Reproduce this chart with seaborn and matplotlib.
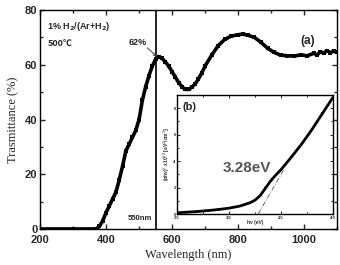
import numpy as np
import pandas as pd
import matplotlib
matplotlib.use("Agg")
import matplotlib.pyplot as plt
from matplotlib.ticker import MultipleLocator
import seaborn as sns

# transmittance spectrum
wavelength = [200, 300, 370, 380, 390, 400, 410, 420, 430, 440, 450, 460, 470, 480,
              490, 500, 510, 520, 530, 540, 550, 560, 570, 580, 590, 600, 610, 620,
              630, 640, 650, 660, 670, 680, 690, 700, 720, 740, 760, 780, 800, 815,
              830, 850, 870, 890, 910, 930, 950, 970, 990, 1010, 1030, 1040, 1050,
              1060, 1070, 1080, 1090, 1100]
transmittance = [0, 0, 0, 1, 3, 6, 8.5, 11, 13.5, 18, 23, 28.5, 31, 33.5,
                 36, 40, 47, 52, 56, 59.5, 62, 63, 62.3, 61, 59.5, 57.5, 55.5, 53.5,
                 52, 51, 51, 51.8, 53, 54.8, 57, 59.5, 63.5, 67, 69.3, 70.5, 71, 71.2,
                 70.8, 70, 68.2, 66, 64.5, 63.5, 63.3, 63.2, 63.6, 63.3, 64.2, 63.6, 64.8,
                 64.2, 65.2, 64.4, 65.0, 64.5]

# Tauc plot (inset)
photon_energy = [2.5, 2.6, 2.7, 2.8, 2.9, 3.0, 3.1, 3.2, 3.25, 3.3, 3.35, 3.4,
                 3.45, 3.5, 3.6, 3.7, 3.8, 3.9, 4.0]
tauc = [0.1, 0.15, 0.2, 0.27, 0.35, 0.45, 0.6, 0.85, 1.05, 1.4, 1.95, 2.5,
        2.95, 3.35, 4.3, 5.3, 6.4, 7.6, 8.8]
fit_energy = [3.28, 3.53]
fit_tauc = [0.0, 3.4]

peak_nm = 550
peak_T = 63
band_gap = 3.28

sns.set_style("ticks")
plt.rcParams['font.family'] = ['Liberation Sans', 'DejaVu Sans']
plt.rcParams['xtick.direction'] = 'in'
plt.rcParams['ytick.direction'] = 'in'

fig = plt.figure(figsize=(3.4, 2.65), dpi=100)
ax = fig.add_axes([0.118, 0.136, 0.873, 0.826])

df = pd.DataFrame({'wl': wavelength, 'T': transmittance})
sns.lineplot(data=df, x='wl', y='T', ax=ax, color='black', lw=2.6,
             marker='s', markersize=2.4, markeredgewidth=0)
ax.axvline(peak_nm, color='black', lw=1.2)

ax.set_xlim(200, 1100)
ax.set_ylim(0, 80)
ax.xaxis.set_major_locator(MultipleLocator(200))
ax.xaxis.set_minor_locator(MultipleLocator(100))
ax.yaxis.set_major_locator(MultipleLocator(20))
ax.yaxis.set_minor_locator(MultipleLocator(10))
ax.tick_params(which='both', top=True, right=True, labelsize=8, width=1, pad=2)
ax.tick_params(axis='x', pad=4)
ax.tick_params(which='major', length=3.5)
ax.tick_params(which='minor', length=2)
for lab in ax.get_xticklabels() + ax.get_yticklabels():
    lab.set_fontweight('bold')
for s in ax.spines.values():
    s.set_linewidth(1)
    s.set_color('black')

ax.set_xlabel('Wavelength (nm)', family='Liberation Serif', fontsize=9, labelpad=3)
ax.set_ylabel('Trasmittance (%)', family='Liberation Serif', fontsize=9, labelpad=4)

ax.text(222, 74, '1% H$_\\mathbf{2}$/(Ar+H$_\\mathbf{2}$)', fontsize=6.5,
        fontweight='bold', va='center')
ax.text(222, 67.8, '500℃', fontsize=6.5, fontweight='bold', va='center',
        family=['Noto Sans CJK SC', 'DejaVu Sans'])
ax.text(497, 68, '62%', fontsize=6.5, fontweight='bold', ha='center', va='center')
ax.annotate('', xy=(peak_nm + 4, peak_T), xytext=(525, 66.2),
            arrowprops=dict(arrowstyle='->', color='#444444', lw=0.7,
                            shrinkA=0, shrinkB=0, mutation_scale=5))
ax.text(1012, 68.6, '(a)', fontsize=8.5, fontweight='bold', ha='center', va='center')
ax.text(540, 4, '550nm', fontsize=5.5, fontweight='bold', ha='right', va='center')

# inset
ins = fig.add_axes([0.521, 0.192, 0.458, 0.45])
di = pd.DataFrame({'E': photon_energy, 'a': tauc})
sns.lineplot(data=di, x='E', y='a', ax=ins, color='black', lw=2.0,
             marker='s', markersize=2.0, markeredgewidth=0)
ins.plot(fit_energy, fit_tauc, color='#555555', lw=0.6, ls=(0, (6, 2, 1, 2)))
ins.set_xlim(2.5, 4.0)
ins.set_ylim(0, 9)
ins.xaxis.set_major_locator(MultipleLocator(0.5))
ins.xaxis.set_minor_locator(MultipleLocator(0.25))
ins.yaxis.set_major_locator(MultipleLocator(2))
ins.yaxis.set_minor_locator(MultipleLocator(1))
ins.tick_params(which='both', top=True, right=True, labelsize=3, width=0.7, pad=1)
ins.tick_params(which='major', length=2.5)
ins.tick_params(which='minor', length=1.5)
for lab in ins.get_xticklabels() + ins.get_yticklabels():
    lab.set_fontweight('bold')
for s in ins.spines.values():
    s.set_linewidth(1)
    s.set_color('black')
ins.set_xlabel('hν (eV)', fontsize=3.5, fontweight='bold', labelpad=0.5)
ins.set_ylabel('(αhν)$^2$ x10$^{10}$ [eV$^2$/cm$^2$]', fontsize=3.5,
               fontweight='bold', labelpad=1)
ins.text(2.62, 8.1, '(b)', fontsize=8, fontweight='bold', ha='center', va='center')
ins.text(3.17, 3.5, f'{band_gap:.2f}eV', fontsize=11, fontweight='bold',
         color='#555555', ha='center', va='center')

fig.savefig('out.png', dpi=100)
